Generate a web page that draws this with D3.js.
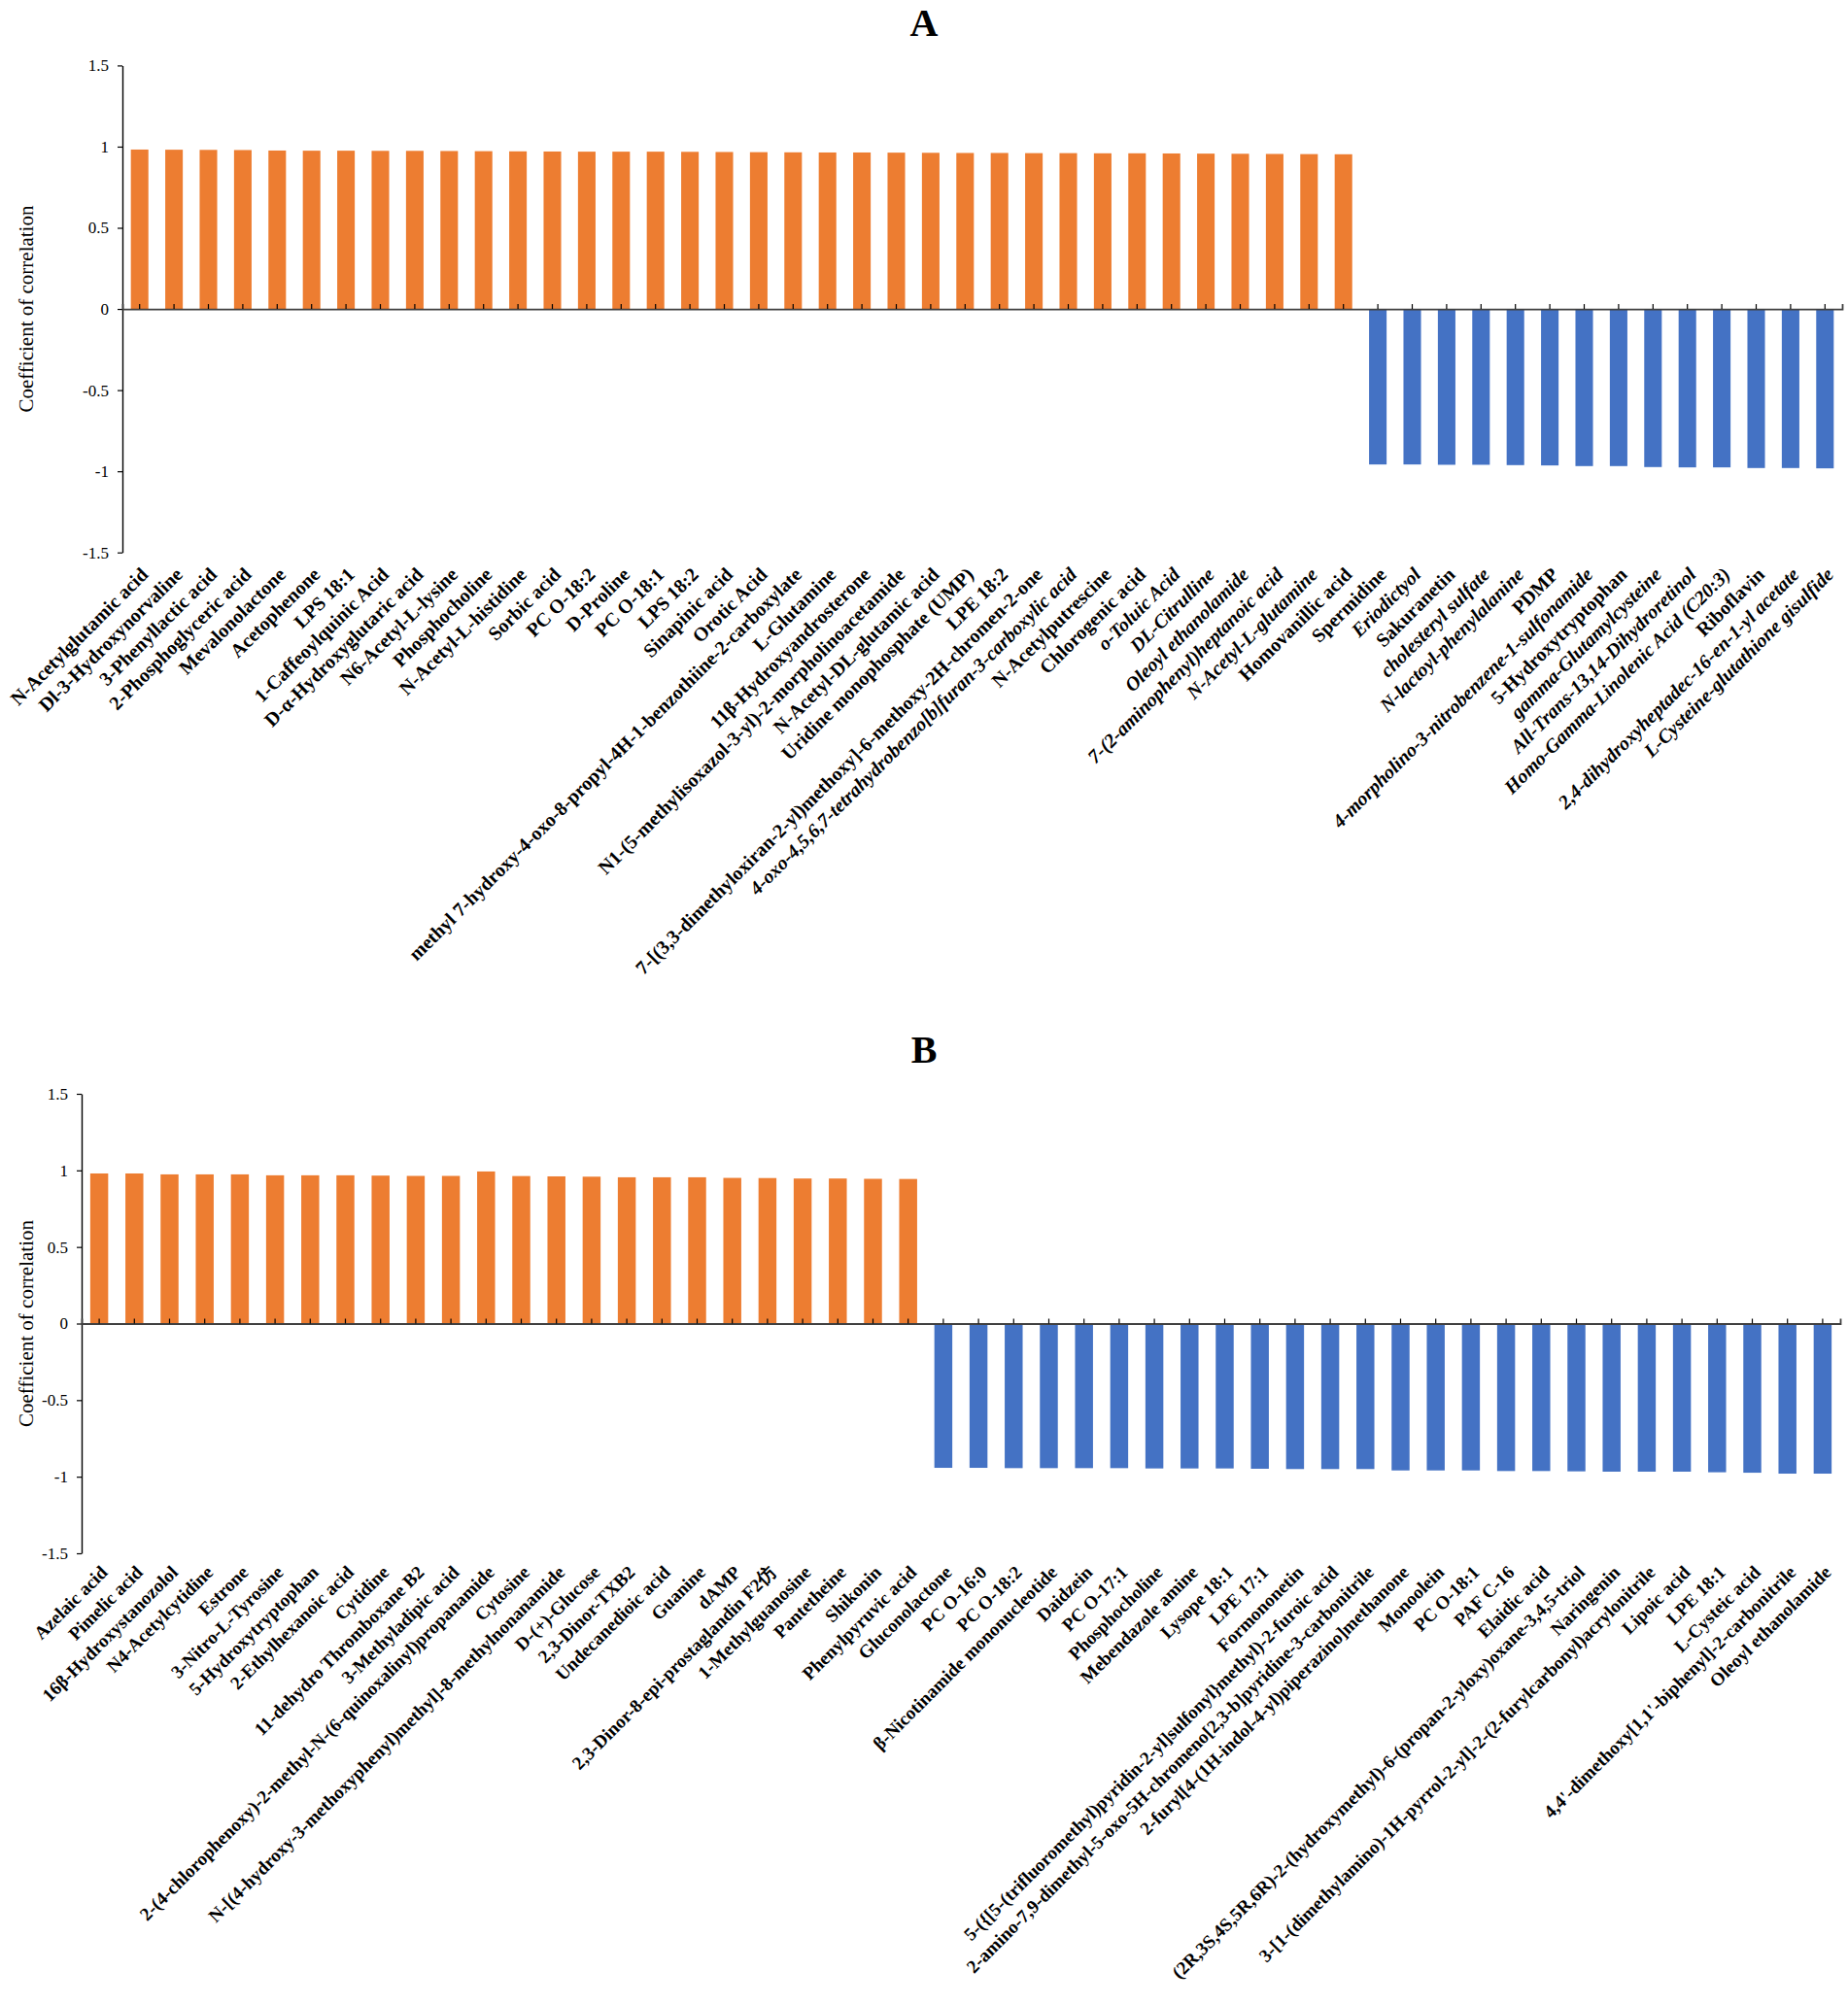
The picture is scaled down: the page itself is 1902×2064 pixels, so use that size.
<!DOCTYPE html>
<html>
<head>
<meta charset="utf-8">
<script src="https://cdn.jsdelivr.net/npm/d3@7"></script>
<style>
  body { margin: 0; background: #fff; }
  svg { display: block; }
  .serif { font-family: "Liberation Serif", "Times New Roman", "DejaVu Serif", serif; }
</style>
</head>
<body>
<div id="chart"></div>
<script>
// ---- data: panel A ----
const namesA = [
  "N-Acetylglutamic acid", "Dl-3-Hydroxynorvaline", "3-Phenyllactic acid", "2-Phosphoglyceric acid",
  "Mevalonolactone", "Acetophenone", "LPS 18:1", "1-Caffeoylquinic Acid", "D-\u03b1-Hydroxyglutaric acid",
  "N6-Acetyl-L-lysine", "Phosphocholine", "N-Acetyl-L-histidine", "Sorbic acid", "PC O-18:2", "D-Proline",
  "PC O-18:1", "LPS 18:2", "Sinapinic acid", "Orotic Acid",
  "methyl 7-hydroxy-4-oxo-8-propyl-4H-1-benzothiine-2-carboxylate", "L-Glutamine",
  "11\u03b2-Hydroxyandrosterone", "N1-(5-methylisoxazol-3-yl)-2-morpholinoacetamide",
  "N-Acetyl-DL-glutamic acid", "Uridine monophosphate (UMP)", "LPE 18:2",
  "7-[(3,3-dimethyloxiran-2-yl)methoxy]-6-methoxy-2H-chromen-2-one",
  "4-oxo-4,5,6,7-tetrahydrobenzo[b]furan-3-carboxylic acid", "N-Acetylputrescine", "Chlorogenic acid",
  "o-Toluic Acid", "DL-Citrulline", "Oleoyl ethanolamide", "7-(2-aminophenyl)heptanoic acid",
  "N-Acetyl-L-glutamine", "Homovanillic acid",
  "Spermidine", "Eriodictyol", "Sakuranetin", "cholesteryl sulfate", "N-lactoyl-phenylalanine", "PDMP",
  "4-morpholino-3-nitrobenzene-1-sulfonamide", "5-Hydroxytryptophan", "gamma-Glutamylcysteine",
  "All-Trans-13,14-Dihydroretinol", "Homo-Gamma-Linolenic Acid (C20:3)", "Riboflavin",
  "2,4-dihydroxyheptadec-16-en-1-yl acetate", "L-Cysteine-glutathione gisulfide"
];
const valuesA = [
  0.982, 0.981, 0.980, 0.979, 0.976, 0.975, 0.975, 0.974, 0.974, 0.973,
  0.972, 0.971, 0.970, 0.969, 0.969, 0.969, 0.968, 0.967, 0.966, 0.965,
  0.964, 0.964, 0.963, 0.962, 0.961, 0.961, 0.960, 0.960, 0.959, 0.959,
  0.958, 0.957, 0.956, 0.955, 0.954, 0.953,
  -0.958, -0.958, -0.960, -0.960, -0.962, -0.964, -0.968, -0.968, -0.974, -0.976,
  -0.976, -0.980, -0.980, -0.982
];
// labels printed in italic in the original
const italicA = [
  "4-oxo-4,5,6,7-tetrahydrobenzo[b]furan-3-carboxylic acid", "o-Toluic Acid", "DL-Citrulline",
  "Oleoyl ethanolamide", "7-(2-aminophenyl)heptanoic acid", "N-Acetyl-L-glutamine", "Eriodictyol",
  "cholesteryl sulfate", "N-lactoyl-phenylalanine", "4-morpholino-3-nitrobenzene-1-sulfonamide",
  "gamma-Glutamylcysteine", "All-Trans-13,14-Dihydroretinol", "Homo-Gamma-Linolenic Acid (C20:3)",
  "2,4-dihydroxyheptadec-16-en-1-yl acetate", "L-Cysteine-glutathione gisulfide"
];

// ---- data: panel B ----
const namesB = [
  "Azelaic acid", "Pimelic acid", "16\u03b2-Hydroxystanozolol", "N4-Acetylcytidine", "Estrone",
  "3-Nitro-L-Tyrosine", "5-Hydroxytryptophan", "2-Ethylhexanoic acid", "Cytidine",
  "11-dehydro Thromboxane B2", "3-Methyladipic acid",
  "2-(4-chlorophenoxy)-2-methyl-N-(6-quinoxalinyl)propanamide", "Cytosine",
  "N-[(4-hydroxy-3-methoxyphenyl)methyl]-8-methylnonanamide", "D-(+)-Glucose", "2,3-Dinor-TXB2",
  "Undecanedioic acid", "Guanine", "dAMP", "2,3-Dinor-8-epi-prostaglandin F2\u4eff",
  "1-Methylguanosine", "Pantetheine", "Shikonin", "Phenylpyruvic acid",
  "Gluconolactone", "PC O-16:0", "PC O-18:2", "\u03b2-Nicotinamide mononucleotide", "Daidzein",
  "PC O-17:1", "Phosphocholine", "Mebendazole amine", "Lysope 18:1", "LPE 17:1", "Formononetin",
  "5-({[5-(trifluoromethyl)pyridin-2-yl]sulfonyl}methyl)-2-furoic acid",
  "2-amino-7,9-dimethyl-5-oxo-5H-chromeno[2,3-b]pyridine-3-carbonitrile",
  "2-furyl[4-(1H-indol-4-yl)piperazino]methanone", "Monoolein", "PC O-18:1", "PAF C-16",
  "Elaidic acid", "(2R,3S,4S,5R,6R)-2-(hydroxymethyl)-6-(propan-2-yloxy)oxane-3,4,5-triol",
  "Naringenin", "3-[1-(dimethylamino)-1H-pyrrol-2-yl]-2-(2-furylcarbonyl)acrylonitrile",
  "Lipoic acid", "LPE 18:1", "L-Cysteic acid", "4,4'-dimethoxy[1,1'-biphenyl]-2-carbonitrile",
  "Oleoyl ethanolamide"
];
const valuesB = [
  0.980, 0.980, 0.974, 0.974, 0.974, 0.968, 0.968, 0.968, 0.966, 0.964,
  0.964, 0.993, 0.963, 0.961, 0.959, 0.955, 0.955, 0.955, 0.951, 0.950,
  0.947, 0.947, 0.945, 0.944,
  -0.942, -0.942, -0.944, -0.944, -0.944, -0.944, -0.946, -0.946, -0.946, -0.948,
  -0.950, -0.950, -0.950, -0.959, -0.959, -0.959, -0.963, -0.963, -0.965, -0.967,
  -0.967, -0.967, -0.971, -0.974, -0.980, -0.980
];
const italicB = [];

const yTicks = [-1.5, -1, -0.5, 0, 0.5, 1, 1.5];
const yDomain = [-1.5, 1.5];

// ---- drawing ----
const W = 1902, H = 2064;
const posColor = "#ED7D31", negColor = "#4472C4";

const svg = d3.select("#chart").append("svg")
  .attr("width", W).attr("height", H)
  .attr("class", "serif");

function drawPanel(p) {
  const g = svg.append("g");

  const x = d3.scaleBand()
    .domain(p.names)
    .range([p.left, p.right])
    .paddingInner(0.49)
    .paddingOuter(0.245);

  const y = d3.scaleLinear().domain(yDomain).range([p.bottom, p.top]);

  // title
  g.append("text")
    .attr("x", W / 2).attr("y", p.titleY)
    .attr("text-anchor", "middle")
    .attr("font-weight", "bold")
    .attr("font-size", 40)
    .text(p.title);

  // bars
  g.selectAll("rect.bar")
    .data(p.values)
    .join("rect")
    .attr("class", "bar")
    .attr("x", (d, i) => x(p.names[i]))
    .attr("width", x.bandwidth())
    .attr("y", d => y(Math.max(0, d)))
    .attr("height", d => Math.abs(y(d) - y(0)))
    .attr("fill", d => d >= 0 ? posColor : negColor);

  // y axis
  const yAxis = g.append("g")
    .attr("transform", `translate(${p.left},0)`)
    .call(d3.axisLeft(y).tickValues(yTicks).tickSize(5).tickSizeOuter(0)
      .tickPadding(9).tickFormat(d => String(d)));
  yAxis.select(".domain").attr("stroke", "#000").attr("stroke-width", 1.4);
  yAxis.selectAll(".tick line").attr("stroke", "#000").attr("stroke-width", 1.2);
  yAxis.selectAll("text")
    .attr("font-family", "Liberation Serif, Times New Roman, serif")
    .attr("font-size", 17).attr("fill", "#000");

  // zero line with category ticks
  const xAxis = g.append("g")
    .attr("transform", `translate(0,${y(0)})`)
    .call(d3.axisBottom(x).tickSizeInner(-5).tickSizeOuter(-5).tickFormat(""));
  xAxis.select(".domain").attr("stroke", "#404040").attr("stroke-width", 1.8);
  xAxis.selectAll(".tick line").attr("stroke", "#000").attr("stroke-width", 1.2);

  // y title
  g.append("text")
    .attr("transform", `translate(${p.titleX},${(p.top + p.bottom) / 2}) rotate(-90)`)
    .attr("text-anchor", "middle")
    .attr("dy", "0.35em")
    .attr("font-size", 21)
    .text("Coefficient of correlation");

  // category labels
  g.selectAll("text.cat")
    .data(p.names)
    .join("text")
    .attr("class", "cat")
    .attr("transform", d => `translate(${x(d) + x.bandwidth() / 2 + 5},${p.bottom + p.labelGap}) rotate(-45)`)
    .attr("text-anchor", "end")
    .attr("dy", "0.35em")
    .attr("font-weight", "bold")
    .attr("font-style", d => p.italic.includes(d) ? "italic" : "normal")
    .attr("font-size", p.labelSize)
    .text(d => d);
}

drawPanel({
  title: "A", titleY: 37, names: namesA, values: valuesA, italic: italicA,
  left: 126, right: 1896, top: 67.4, bottom: 568.7, titleX: 27, labelSize: 20, labelGap: 19
});
drawPanel({
  title: "B", titleY: 1094, names: namesB, values: valuesB, italic: italicB,
  left: 84, right: 1894, top: 1126, bottom: 1599, titleX: 27, labelSize: 19, labelGap: 16
});
</script>
</body>
</html>
